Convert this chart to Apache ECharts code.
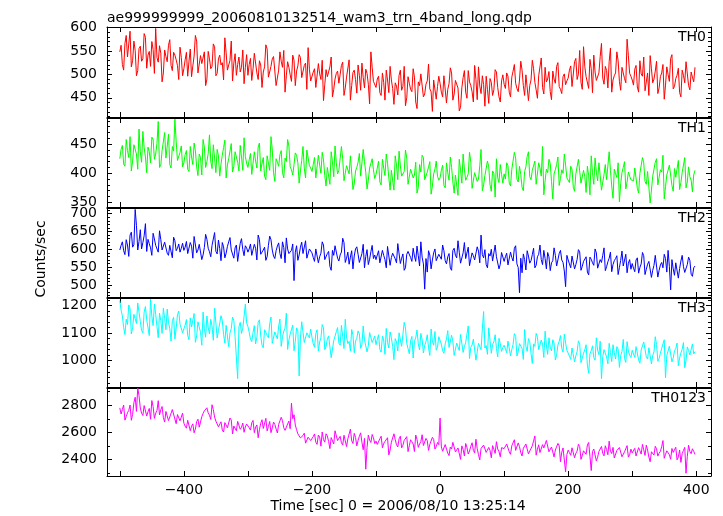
<!DOCTYPE html>
<html><head><meta charset="utf-8">
<script src="https://cdn.jsdelivr.net/npm/echarts@6/dist/echarts.min.js"></script>
<style>html,body{margin:0;padding:0;background:#fff}#c{width:723px;height:516px}</style>
</head><body><div id="c"></div>
<script>
const TITLE = 'ae999999999_20060810132514_wam3_trn_4band_long.qdp';
const X_TITLE = 'Time [sec] 0 = 2006/08/10 13:25:14';
const Y_TITLE = 'Counts/sec';
// samples: "A" lists at t = -500, -496, ... ; "B" lists at t = -498, -494, ...
const T_START = -500, T_STEP = 4, T_OFFSET_B = 2;

const th0A = [
548,521,566,537,592,529,551,508,560,533,579,541,517,553,598,526,545,503,538,562,519,547,531,489,536,
512,547,528,495,539,571,506,523,548,490,533,517,559,502,541,525,578,509,530,486,544,521,505,552,515,
498,534,512,547,489,520,505,563,494,517,538,476,509,528,551,497,515,485,530,507,542,493,519,468,511,
487,512,469,501,530,478,495,516,452,490,507,483,526,471,498,445,504,489,520,466,493,511,479,548,485,
472,496,455,483,509,461,488,436,475,498,466,517,450,481,463,494,427,476,505,458,486,469,421,490,474,
481,452,499,468,514,445,487,471,430,493,462,508,476,441,489,516,459,478,496,438,483,467,505,452,486,
479,503,462,494,521,470,488,509,455,497,476,530,483,449,501,472,515,490,463,507,481,525,468,495,478,
492,518,476,534,501,483,559,495,470,512,541,487,503,566,479,508,527,462,497,548,485,515,491,575,502,
488,511,473,529,496,465,503,540,482,507,459,495,521,477,500,534,469,491,513,452,498,527,476,505,484];
const th0B = [
562,509,583,540,516,571,497,555,528,587,513,549,570,502,536,561,484,552,527,574,508,541,519,558,497,
531,496,554,518,583,503,540,527,476,549,512,565,497,533,520,488,546,509,571,524,498,537,515,480,542,
521,487,545,503,529,472,516,554,491,533,507,480,548,515,462,527,499,541,476,518,536,495,524,557,486,
505,472,523,489,444,510,497,537,468,502,481,519,455,494,531,476,509,460,498,524,471,502,437,515,482,
490,461,503,445,488,517,470,482,456,509,474,433,495,468,512,441,484,501,452,479,522,463,488,447,496,
462,497,439,480,503,458,490,422,471,508,449,484,463,519,446,475,497,432,468,491,455,510,472,441,499,
470,496,452,507,481,463,528,476,499,444,488,512,467,497,535,458,484,506,446,490,517,474,459,501,486,
509,474,527,489,551,468,516,498,532,461,505,483,538,492,517,471,556,488,503,529,466,511,482,540,496,
477,519,462,501,537,484,455,512,490,528,471,503,447,516,485,542,474,498,461,509,482,530,467,494,515];

const th1A = [
425,448,412,439,463,421,451,407,437,472,428,445,418,458,433,489,414,442,426,467,409,438,455,420,447,
418,439,403,428,452,411,433,397,445,420,466,408,426,441,395,431,457,414,424,402,437,419,448,405,429,
410,434,396,421,445,404,427,389,418,463,401,425,412,439,392,420,447,406,415,431,383,422,409,440,413,
403,427,389,414,436,396,410,381,420,447,399,408,425,386,415,430,372,404,419,395,441,401,388,417,406,
398,421,380,409,433,392,405,371,414,438,395,403,426,384,410,397,366,415,431,389,402,420,378,407,395,
392,414,375,401,428,385,397,362,406,433,388,399,419,373,403,390,441,380,395,411,369,400,425,384,398,
399,418,383,407,436,390,412,376,403,429,394,405,421,380,409,446,387,401,417,356,406,428,391,400,414,
390,412,376,399,424,383,405,367,396,430,381,402,418,371,398,389,437,378,407,393,351,401,420,385,395,
392,409,374,400,427,386,403,349,395,419,380,406,431,377,398,414,369,393,422,384,400,375,411,388,397];
const th1B = [
441,416,458,427,404,449,433,476,419,444,401,437,462,424,451,410,439,470,428,415,446,493,422,436,411,
432,407,446,415,439,396,427,458,410,434,421,449,401,430,416,444,392,425,451,412,436,404,428,461,417,
423,398,437,409,452,417,395,430,405,441,386,419,432,401,426,458,411,397,435,418,404,446,392,427,409,
415,392,431,400,423,378,412,437,394,418,405,446,387,413,399,428,382,410,434,397,420,373,409,425,391,
409,385,424,396,417,371,405,430,389,413,398,440,381,407,392,419,376,402,427,386,411,364,399,421,388,
405,379,418,388,410,366,397,424,383,407,393,436,374,401,386,413,370,396,421,380,404,359,392,415,383,
390,413,378,405,426,385,398,370,411,437,389,402,381,418,395,363,407,424,386,399,415,379,406,433,392,
384,407,369,398,421,380,394,412,363,401,426,387,396,374,415,391,405,357,399,418,382,410,373,402,389,
387,411,366,399,418,381,406,371,394,425,383,402,356,397,414,379,408,390,372,401,427,385,394,368,405];

const th2A = [
598,621,585,612,640,606,712,598,655,619,672,628,604,645,611,592,627,600,617,583,609,634,596,615,603,
597,622,583,609,636,590,614,571,605,628,593,611,647,587,602,619,576,608,633,595,604,566,617,599,610,
592,615,578,603,640,586,598,569,611,627,581,596,618,574,605,632,588,597,512,610,584,620,593,575,601,
590,566,603,579,621,571,588,552,597,610,575,584,631,563,592,578,545,601,586,568,614,580,557,593,574,
571,596,560,583,548,604,577,589,562,618,575,541,586,599,566,581,609,553,578,488,536,584,570,601,564,
585,612,568,579,547,597,583,624,561,590,574,606,552,582,569,595,640,576,557,588,600,563,579,545,591,
566,589,553,577,603,559,478,534,571,596,561,585,548,579,612,557,574,591,540,568,583,552,597,563,495,
570,548,585,557,599,541,566,579,528,572,555,590,546,563,604,551,575,537,568,582,549,595,558,534,571,
560,537,576,549,591,529,558,570,541,583,522,556,548,574,597,486,545,562,519,567,551,538,578,530,548];
const th2B = [
611,596,627,580,648,613,667,622,601,638,594,616,583,629,607,652,598,620,589,611,576,624,603,592,617,
606,588,619,575,632,598,611,584,642,603,579,615,594,626,568,607,589,621,598,575,612,593,630,582,604,
601,583,614,570,627,592,606,579,637,598,574,609,588,621,562,601,584,615,592,569,606,588,624,576,598,
577,601,562,589,612,570,594,541,583,606,567,592,619,575,558,596,581,607,563,588,548,599,572,611,584,
584,562,597,571,608,555,589,573,616,560,587,548,594,577,603,566,582,621,559,574,596,545,590,568,586,
572,596,559,588,541,603,576,592,565,619,579,554,590,570,607,562,585,599,548,581,567,612,575,558,594,
579,556,592,567,610,549,575,587,542,581,568,603,555,586,571,597,545,579,562,604,553,588,570,539,583,
559,581,545,572,593,552,566,536,578,562,601,547,571,583,540,565,592,557,574,529,569,553,586,561,544,
547,570,533,559,582,544,566,521,555,578,541,563,586,536,552,571,527,560,546,583,535,557,569,524,553];

const th3A = [
1218,1162,1095,1131,1188,1120,1175,1209,1142,1101,1196,1154,1223,1127,1168,1083,1145,1190,1112,1139,1071,1157,1118,1180,1126,
1108,1149,1076,1122,1171,1090,1134,1056,1117,1162,1097,1125,1190,1082,1113,1146,1064,1129,1101,1158,1087,935,1139,1118,1205,
1124,1078,1102,1061,1139,1090,1047,1116,1083,1158,1069,1098,1125,1052,1107,1172,1075,1094,1036,1119,945,1141,1066,1101,1083,
1085,1049,1112,1068,1131,1040,1079,1097,1018,1074,1120,1056,1089,1150,1062,1035,1093,1071,1108,1045,1126,1081,1054,1099,1067,
1058,1094,1031,1075,1117,1046,1083,1004,1068,1101,1052,1139,1063,1025,1088,1071,1111,1039,1077,1056,1094,1019,1072,1106,1049,
1082,1036,1061,1109,1043,1070,1012,1058,1095,1030,1066,1126,1049,1078,1002,1063,1040,1178,1055,1119,1027,1068,1045,1081,1034,
1056,1029,1074,1041,1098,1017,1062,1045,1113,1034,1069,990,1052,1085,1038,1060,1107,1023,1049,1076,1003,1057,1091,1031,1064,
1031,1005,1049,1018,1072,993,1027,1058,955,1036,1011,1083,1022,935,1040,1014,1063,997,1029,1051,976,1033,1008,1069,1020,
1038,1012,1055,991,1033,1074,1006,1041,1019,1087,998,1027,1049,938,1035,1060,1010,1044,982,1028,1066,1001,1037,1015,1025];
const th3B = [
1183,1121,1150,1202,1097,1168,1135,1214,1109,1176,1148,1091,1161,1205,1124,1172,1099,1153,1187,1116,1145,1079,1166,1132,1101,
1129,1092,1155,1118,1067,1141,1103,1176,1085,1121,1150,1074,1137,1109,1163,1095,1128,1051,1116,1145,1082,1123,1099,1160,1137,
1103,1069,1127,1085,1148,1056,1112,1092,1134,1063,1104,1079,1151,1087,1118,1041,1096,1129,1070,1108,1082,1136,1059,1097,1115,
1061,1098,1035,1083,1119,1052,1090,1011,1073,1105,1064,1128,1044,1086,1070,1113,1029,1081,1097,1058,1076,1032,1102,1066,1089,
1077,1041,1089,1023,1066,1104,1052,1080,1035,1095,1059,1118,1044,1072,1010,1083,1061,1099,1028,1069,1047,1115,1056,1038,1087,
1060,1027,1079,1048,1092,1019,1064,1037,1101,1051,1073,1008,1057,1085,1032,1069,1115,1046,1023,1074,1059,1094,1014,1062,1048,
1043,1071,1018,1059,1088,1034,1066,1005,1052,1080,1027,1061,1099,1040,1075,1012,1057,1083,1036,1064,1021,1070,1045,1096,1038,
1017,1046,996,1033,1061,1009,1040,984,1025,1054,1002,1038,1071,1015,1047,989,1030,1058,1006,1042,1019,1077,994,1035,1012,
1024,1051,1003,1039,1068,1014,1047,989,1032,1059,1008,1045,1076,1019,1053,996,1036,1064,1011,1042,975,1050,1021,1061,1033];

const th0123A = [
2780,2768,2690,2745,2801,2733,2858,2926,2779,2724,2810,2752,2697,2789,2741,2833,2766,2708,2754,2687,2740,2772,2664,2721,2695,
2668,2631,2702,2645,2597,2679,2638,2715,2758,2781,2726,2803,2712,2690,2655,2618,2672,2634,2706,2589,2657,2681,2623,2669,2640,
2652,2617,2688,2639,2561,2667,2629,2703,2644,2598,2676,2625,2659,2711,2634,2607,2683,2815,2730,2620,2582,2551,2594,2530,2568,
2547,2589,2512,2566,2603,2528,2574,2481,2559,2612,2540,2571,2507,2588,2552,2624,2519,2563,2541,2597,2473,2330,2580,2526,2561,
2536,2498,2572,2519,2547,2435,2528,2590,2509,2553,2487,2541,2569,2502,2531,2460,2548,2515,2583,2496,2539,2512,2564,2478,2526,
2705,2462,2511,2448,2493,2527,2457,2486,2402,2475,2519,2441,2498,2468,2550,2436,2482,2507,2453,2490,2414,2477,2532,2459,2488,
2481,2515,2458,2502,2546,2470,2495,2427,2488,2529,2463,2501,2574,2476,2452,2510,2489,2537,2444,2497,2471,2519,2385,2486,2310,
2470,2432,2491,2447,2513,2402,2465,2439,2526,2320,2478,2391,2460,2497,2428,2474,2536,2445,2412,2467,2489,2421,2458,2503,2436,
2449,2483,2418,2466,2512,2431,2470,2385,2457,2498,2426,2462,2540,2439,2475,2403,2453,2491,2420,2380,2468,2300,2506,2444,2461];
const th0123B = [
2735,2801,2716,2762,2689,2818,2754,2869,2741,2797,2720,2776,2834,2703,2759,2728,2790,2676,2747,2713,2768,2698,2731,2685,2742,
2646,2689,2612,2663,2624,2697,2651,2739,2772,2744,2695,2767,2683,2641,2678,2603,2659,2626,2691,2647,2612,2674,2638,2601,2662,
2634,2671,2598,2655,2620,2693,2642,2611,2680,2633,2659,2596,2648,2687,2615,2662,2627,2701,2654,2589,2560,2577,2521,2565,2540,
2569,2528,2581,2499,2547,2590,2533,2562,2515,2604,2548,2524,2579,2496,2557,2538,2593,2501,2572,2527,2556,2490,2544,2585,2518,
2512,2553,2487,2534,2561,2470,2519,2548,2493,2572,2506,2527,2459,2546,2515,2581,2490,2532,2504,2556,2468,2523,2549,2495,2510,
2493,2455,2506,2430,2478,2519,2444,2472,2501,2427,2489,2463,2524,2450,2481,2398,2470,2512,2439,2467,2503,2446,2478,2421,2495,
2472,2507,2439,2491,2468,2523,2451,2484,2515,2442,2477,2496,2433,2509,2465,2486,2541,2458,2493,2420,2479,2502,2455,2488,2437,
2451,2487,2414,2463,2496,2431,2472,2508,2425,2459,2483,2418,2470,2445,2502,2436,2461,2490,2404,2457,2481,2432,2466,2419,2477,
2463,2427,2488,2441,2472,2506,2419,2458,2433,2479,2447,2495,2410,2465,2436,2482,2452,2399,2471,2444,2490,2425,2459,2480,2438];

const panelNames = ['TH0','TH1','TH2','TH3','TH0123'];
const seriesA = [th0A, th1A, th2A, th3A, th0123A];
const seriesB = [th0B, th1B, th2B, th3B, th0123B];
const xTicks = [-500,-400,-300,-200,-100,0,100,200,300,400];
const xLabels = [-400,-200,0,200,400];
const xRange = [-520, 423];
const yRanges = [[409,601],[342,495],[466,716],[905,1227],[2280,2926]];
const yLabels = [[450,500,550,600],[350,400,450],[500,550,600,650,700],[1000,1100,1200],[2400,2600,2800]];
const yMinorStep = [10,10,10,20,100];

// layout / style
const colors = ['#ff0000','#00ff00','#0000ff','#00ffff','#ff00ff'];
const tops = [27,118,208,298,388];
const bottoms = [117,207,297,387,476];
const LEFT = 107, RIGHT = 711;
const FONT = 'DejaVu Sans';

const grids = [], xAxes = [], yAxes = [], series = [], graphics = [];
const fmtX = v => String(v).replace('-', '\u2212');
const fmtY = v => String(v);

for (let p = 0; p < 5; p++) {
  grids.push({left: LEFT, width: RIGHT - LEFT, top: tops[p], height: bottoms[p] - tops[p], show: false});
  const last = p === 4;
  ['bottom','top'].forEach((pos, k) => {
    xAxes.push({
      type: 'value', gridIndex: p, position: pos, min: xRange[0], max: xRange[1],
      axisLine: {show: true, onZero: false, lineStyle: {color: '#000', width: 1}},
      axisTick: {show: true, inside: true, length: 5, customValues: xTicks, lineStyle: {color: '#000'}},
      axisLabel: {show: last && k === 0, customValues: xLabels, formatter: fmtX, margin: 7,
                  fontFamily: FONT, fontSize: 14, color: '#000'},
      splitLine: {show: false}
    });
  });
  const [mn, mx] = yRanges[p];
  const minors = [];
  for (let v = Math.ceil(mn / yMinorStep[p]) * yMinorStep[p]; v <= mx; v += yMinorStep[p]) {
    if (!yLabels[p].includes(v)) minors.push(v);
  }
  ['left','right'].forEach((pos, k) => {
    yAxes.push({
      type: 'value', gridIndex: p, position: pos, min: mn, max: mx,
      axisLine: {show: true, onZero: false, lineStyle: {color: '#000', width: 1}},
      axisTick: {show: true, inside: true, length: 5, customValues: yLabels[p], lineStyle: {color: '#000'}},
      axisLabel: {show: k === 0, customValues: yLabels[p], formatter: fmtY, margin: 10, fontFamily: FONT, fontSize: 14, color: '#000'},
      splitLine: {show: false}
    });
    yAxes.push({
      type: 'value', gridIndex: p, position: pos, min: mn, max: mx,
      axisLine: {show: false, onZero: false},
      axisTick: {show: true, inside: true, length: 3, customValues: minors, lineStyle: {color: '#000'}},
      axisLabel: {show: false},
      splitLine: {show: false}
    });
  });
  const data = [];
  seriesA[p].forEach((v, i) => {
    data.push([T_START + i * T_STEP, v]);
    if (i < seriesB[p].length) data.push([T_START + i * T_STEP + T_OFFSET_B, seriesB[p][i]]);
  });
  series.push({
    type: 'line', xAxisIndex: p * 2, yAxisIndex: p * 4, data: data,
    symbol: 'none', showSymbol: false, clip: true, animation: false, silent: true,
    lineStyle: {color: colors[p], width: 1}, z: 1
  });
  graphics.push({type: 'text', right: 723 - 706, top: tops[p] + 3,
    style: {text: panelNames[p], font: '14px "' + FONT + '"', fill: '#000'}});
}

graphics.push({type: 'text', left: LEFT, top: 11, style: {text: TITLE, font: '14px "' + FONT + '"', fill: '#000'}});
graphics.push({type: 'text', x: 398, y: 506, style: {text: X_TITLE, font: '14px "' + FONT + '"', fill: '#000', textAlign: 'center', textVerticalAlign: 'middle'}});
graphics.push({type: 'text', x: 41, y: 259, rotation: Math.PI / 2, style: {text: Y_TITLE, font: '14px "' + FONT + '"', fill: '#000', textAlign: 'center', textVerticalAlign: 'middle'}});

const chart = echarts.init(document.getElementById('c'), null, {renderer: 'canvas'});
chart.setOption({
  animation: false,
  backgroundColor: '#fff',
  grid: grids, xAxis: xAxes, yAxis: yAxes, series: series, graphic: graphics
});
</script></body></html>
